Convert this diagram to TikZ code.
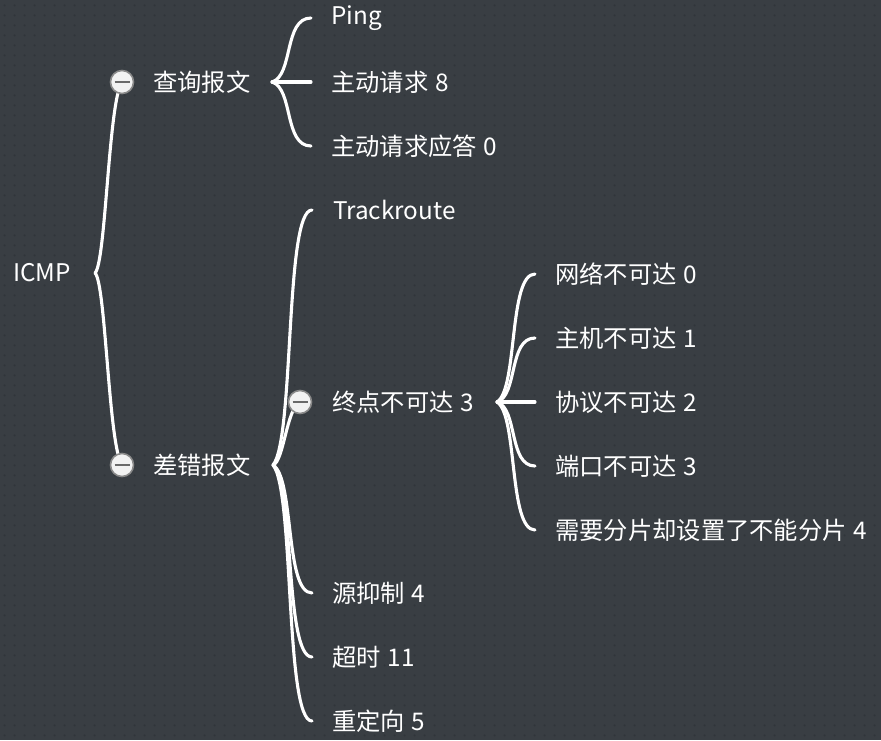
\documentclass[tikz,border=0pt]{standalone}
\usepackage{fontspec}
\setmainfont{Noto Sans CJK SC}[WordSpace=1.25]
\usetikzlibrary{calc,patterns.meta}
\definecolor{bgc}{HTML}{393E43}
\definecolor{dotc}{HTML}{30353A}
\definecolor{ringc}{HTML}{8A8A8A}
\definecolor{minusc}{HTML}{6A6A6A}
\tikzdeclarepattern{name=bgdots, type=uncolored, bottom left={(0pt,0pt)}, top right={(9.6pt,9.6pt)}, tile size={(9.6pt,9.6pt)}, code={\fill (4.8pt,4.8pt) circle (1.2pt);}}
\tikzset{
  lbl/.style={anchor=west, inner sep=0pt, text=white, font=\fontsize{24.3}{28}\selectfont},
  conn/.style={draw=white, line width=3.1pt, line cap=round},
  brace/.style={to path={let \p1=(\tikztostart), \p2=(\tikztotarget) in
    .. controls ({\x1+0.55*(\x2-\x1)},{\y1+0.1*(\y2-\y1)}) and ({\x1+0.3*(\x2-\x1)},\y2) .. (\tikztotarget)}},
  tocirc/.style={to path={let \p1=(\tikztostart), \p2=(\tikztotarget) in
    .. controls ({\x1+0.4*(\x2-\x1)},{\y1+0.05*(\y2-\y1)}) and ({\x1+0.5*(\x2-\x1)},{\y2+0.1*(\y1-\y2)}) .. (\tikztotarget)}},
  fold/.style={circle, minimum size=23pt, inner sep=0pt, fill=white!95!black, draw=ringc, line width=1.6pt,
    path picture={\draw[minusc, line width=2pt] ([xshift=-7.5pt]path picture bounding box.center) -- ([xshift=7.5pt]path picture bounding box.center);}}
}
\begin{document}
\begin{tikzpicture}[x=1pt,y=-1pt]
\fill[bgc] (0,0) rectangle (881,740);
\fill[pattern=bgdots, pattern color=dotc] (0,0) rectangle (881,740);
\useasboundingbox (0,0) rectangle (881,740);

% text nodes
\node[lbl] (icmp) at (13,273) {ICMP};
\node[lbl] (query) at (153,82) {查询报文};
\node[lbl] (err) at (153,465) {差错报文};
\node[lbl] (ping) at (331,18) {Ping};
\node[lbl] (req) at (331,82) {主动请求 8};
\node[lbl] (rep) at (331,146) {主动请求应答 0};
\node[lbl] (trace) at (333,210) {Trackroute};
\node[lbl] (unr) at (332,402) {终点不可达 3};
\node[lbl] (quench) at (332,593) {源抑制 4};
\node[lbl] (tmo) at (332,657) {超时 11};
\node[lbl] (redir) at (332,721) {重定向 5};
\node[lbl] (net) at (555,274) {网络不可达 0};
\node[lbl] (host) at (555,338) {主机不可达 1};
\node[lbl] (proto) at (555,402) {协议不可达 2};
\node[lbl] (port) at (555,466) {端口不可达 3};
\node[lbl] (frag) at (555,530) {需要分片却设置了不能分片 4};

% branch tips
\coordinate (icmp-t) at (95,273);
\coordinate (query-t) at (272,82);
\coordinate (err-t) at (273,465);
\coordinate (unr-t) at (497,402);

% fold circles (coordinates)
\coordinate (query-c) at (122,82);
\coordinate (err-c) at (122,465);
\coordinate (unr-c) at (300,402);

% connectors
\draw[conn] (icmp-t) to[tocirc] (query-c);
\draw[conn] (icmp-t) to[tocirc] (err-c);

\draw[conn] (query-t) to[brace] ([xshift=-20pt]ping.west);
\draw[conn] (query-t) -- ([xshift=-20pt]req.west);
\draw[conn] (query-t) to[brace] ([xshift=-20pt]rep.west);

\draw[conn] (err-t) to[brace] ([xshift=-21pt]trace.west);
\draw[conn] (err-t) to[tocirc] (unr-c);
\draw[conn] (err-t) to[brace] ([xshift=-20pt]quench.west);
\draw[conn] (err-t) to[brace] ([xshift=-20pt]tmo.west);
\draw[conn] (err-t) to[brace] ([xshift=-20pt]redir.west);

\draw[conn] (unr-t) to[brace] ([xshift=-20pt]net.west);
\draw[conn] (unr-t) to[brace] ([xshift=-20pt]host.west);
\draw[conn] (unr-t) -- ([xshift=-20pt]proto.west);
\draw[conn] (unr-t) to[brace] ([xshift=-20pt]port.west);
\draw[conn] (unr-t) to[brace] ([xshift=-20pt]frag.west);

% fold markers
\node[fold] (query-f) at (query-c) {};
\node[fold] (err-f) at (err-c) {};
\node[fold] (unr-f) at (unr-c) {};
\end{tikzpicture}
\end{document}
